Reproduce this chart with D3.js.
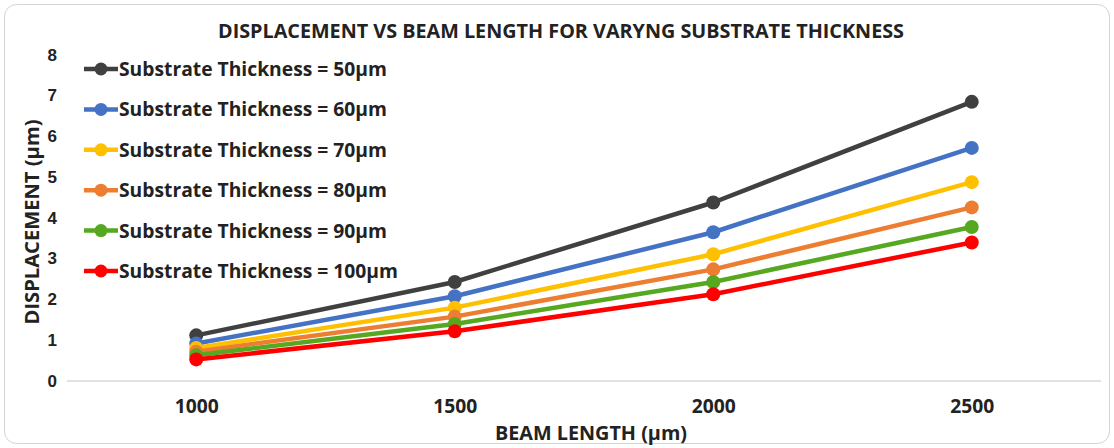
<!DOCTYPE html>
<html>
<head>
<meta charset="utf-8">
<script src="https://cdn.jsdelivr.net/npm/d3@7"></script>
<style>
  html, body { margin: 0; padding: 0; background: #fff; }
  svg { display: block; }
</style>
</head>
<body>
<script>
// Chart data
const beamLengths = [1000, 1500, 2000, 2500];
const seriesNames = [
  'Substrate Thickness = 50µm',
  'Substrate Thickness = 60µm',
  'Substrate Thickness = 70µm',
  'Substrate Thickness = 80µm',
  'Substrate Thickness = 90µm',
  'Substrate Thickness = 100µm'
];
const thick50 = [1.12, 2.43, 4.38, 6.85];
const thick60 = [0.92, 2.08, 3.65, 5.72];
const thick70 = [0.81, 1.80, 3.11, 4.88];
const thick80 = [0.72, 1.58, 2.74, 4.26];
const thick90 = [0.63, 1.40, 2.43, 3.78];
const thick100 = [0.53, 1.22, 2.13, 3.40];
const yTicks = [0, 1, 2, 3, 4, 5, 6, 7, 8];
const colors = ['#404040', '#4472C4', '#FFC000', '#ED7D31', '#55A81F', '#FF0000'];

const width = 1114;
const height = 448;
const margin = {top: 55, right: 10, bottom: 67, left: 67};
const font = 'Open Sans, sans-serif';

const series = [thick50, thick60, thick70, thick80, thick90, thick100]
  .map((values, i) => ({name: seriesNames[i], color: colors[i], values: values}));

const svg = d3.select('body')
  .append('svg')
  .attr('width', width)
  .attr('height', height);

// card frame
svg.append('rect')
  .attr('x', 4.5).attr('y', 4.5)
  .attr('width', width - 9).attr('height', height - 9)
  .attr('rx', 12)
  .attr('fill', '#fff')
  .attr('stroke', '#d4d4d4')
  .attr('stroke-width', 1);

// scales
const xScale = d3.scalePoint()
  .domain(beamLengths)
  .range([margin.left, width - margin.right - 3])
  .padding(0.5);

const yScale = d3.scaleLinear()
  .domain([0, 8])
  .range([height - margin.bottom, margin.top]);

// baseline
svg.append('line')
  .attr('x1', margin.left).attr('x2', width - margin.right - 3)
  .attr('y1', yScale(0)).attr('y2', yScale(0))
  .attr('stroke', '#d9d9d9')
  .attr('stroke-width', 1.5);

// y axis labels
const yAxis = d3.axisLeft(yScale).tickValues(yTicks).tickSize(0).tickPadding(0);
svg.append('g')
  .attr('transform', 'translate(57,0)')
  .call(yAxis)
  .call(g => g.select('.domain').remove())
  .selectAll('text')
  .attr('font-family', 'Liberation Sans, Arial, sans-serif')
  .attr('font-weight', 'bold')
  .attr('font-size', 17)
  .attr('dy', '0.3em')
  .attr('fill', '#222');

// x axis labels
const xAxis = d3.axisBottom(xScale).tickSize(0).tickPadding(0);
svg.append('g')
  .attr('transform', 'translate(0,' + (yScale(0) + 18) + ')')
  .call(xAxis)
  .call(g => g.select('.domain').remove())
  .selectAll('text')
  .attr('font-family', font)
  .attr('font-weight', 'bold')
  .attr('font-size', 19)
  .attr('textLength', 44)
  .attr('lengthAdjust', 'spacingAndGlyphs')
  .attr('fill', '#222');

// titles
svg.append('text')
  .attr('x', 561).attr('y', 38)
  .attr('text-anchor', 'middle')
  .attr('font-family', font)
  .attr('font-weight', 'bold')
  .attr('font-size', 19)
  .attr('textLength', 686)
  .attr('lengthAdjust', 'spacingAndGlyphs')
  .attr('fill', '#222')
  .text('DISPLACEMENT VS BEAM LENGTH FOR VARYNG SUBSTRATE THICKNESS');

svg.append('text')
  .attr('x', 591).attr('y', 440)
  .attr('text-anchor', 'middle')
  .attr('font-family', font)
  .attr('font-weight', 'bold')
  .attr('font-size', 19)
  .attr('textLength', 192)
  .attr('lengthAdjust', 'spacingAndGlyphs')
  .attr('fill', '#222')
  .text('BEAM LENGTH (µm)');

svg.append('text')
  .attr('transform', 'translate(39,' + 222 + ') rotate(-90)')
  .attr('text-anchor', 'middle')
  .attr('font-family', font)
  .attr('font-weight', 'bold')
  .attr('font-size', 19)
  .attr('textLength', 205)
  .attr('lengthAdjust', 'spacingAndGlyphs')
  .attr('fill', '#222')
  .text('DISPLACEMENT (µm)');

// lines and markers
const line = d3.line()
  .x((d, i) => xScale(beamLengths[i]))
  .y(d => yScale(d));

const groups = svg.append('g')
  .selectAll('g')
  .data(series)
  .join('g');

groups.append('path')
  .attr('d', d => line(d.values))
  .attr('fill', 'none')
  .attr('stroke', d => d.color)
  .attr('stroke-width', 4.5)
  .attr('stroke-linejoin', 'round');

groups.selectAll('circle')
  .data(d => d.values.map((v, i) => ({v: v, i: i, color: d.color})))
  .join('circle')
  .attr('cx', d => xScale(beamLengths[d.i]))
  .attr('cy', d => yScale(d.v))
  .attr('r', 7)
  .attr('fill', d => d.color);

// legend
const legend = svg.append('g')
  .attr('transform', 'translate(84,69)')
  .selectAll('g')
  .data(series)
  .join('g')
  .attr('transform', (d, i) => 'translate(0,' + (i * 40.4) + ')');

legend.append('line')
  .attr('x1', 0).attr('x2', 34)
  .attr('stroke', d => d.color)
  .attr('stroke-width', 4.5);

legend.append('circle')
  .attr('cx', 17).attr('r', 6.5)
  .attr('fill', d => d.color);

legend.append('text')
  .attr('x', 35).attr('y', 7)
  .attr('font-family', font)
  .attr('font-weight', 'bold')
  .attr('font-size', 20)
  .attr('textLength', (d, i) => i === 5 ? 279 : 268)
  .attr('lengthAdjust', 'spacingAndGlyphs')
  .attr('fill', '#222')
  .text(d => d.name);
</script>
</body>
</html>
